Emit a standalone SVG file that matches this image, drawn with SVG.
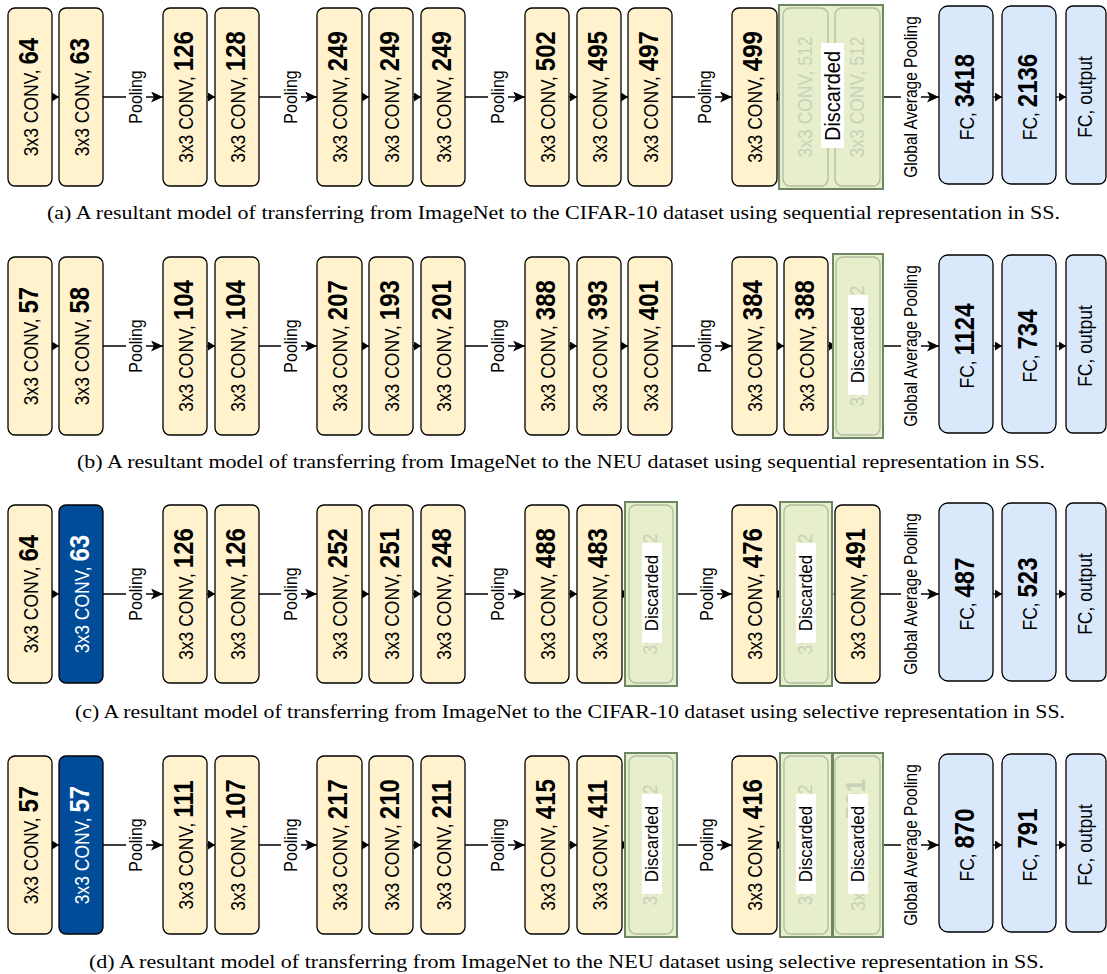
<svg xmlns="http://www.w3.org/2000/svg" width="1107" height="974" viewBox="0 0 1107 974">
<style>
.conv{fill:#fff2cc;stroke:#000;stroke-width:1.3}
.blue{fill:#004c99;stroke:#000;stroke-width:1.3}
.fc{fill:#dae8fc;stroke:#000;stroke-width:1.3}
.dout{fill:#e6eecb;stroke:#6d8764;stroke-width:2}
.din{fill:#e6eecb;stroke:#b3bca3;stroke-width:1.3}
.t{font-family:"Liberation Sans",Arial,sans-serif;font-size:17.5px;fill:#000}
.w{fill:#fff}
.f{fill:#c9d1b8}
.b{font-weight:bold;font-size:24px}
.lbl{font-family:"Liberation Sans",Arial,sans-serif;font-size:16px;fill:#000}
.gap{font-family:"Liberation Sans",Arial,sans-serif;font-size:15.5px;fill:#000}
.dl{font-family:"Liberation Sans",Arial,sans-serif;font-size:17px;fill:#000}
.cap{font-family:"Liberation Serif","Times New Roman",serif;font-size:18px;fill:#000}
.c{stroke:#000;stroke-width:1.3;fill:none}
.cf{stroke:#bcc4ab;stroke-width:1.3;fill:none}
</style>
<defs>
<marker id="tri" markerWidth="8" markerHeight="9" refX="7" refY="4.5" orient="auto" markerUnits="userSpaceOnUse"><path d="M0,0 L7,4.5 L0,9 Z" fill="#000"/></marker>
<marker id="trif" markerWidth="8" markerHeight="9" refX="7" refY="4.5" orient="auto" markerUnits="userSpaceOnUse"><path d="M0,0 L7,4.5 L0,9 Z" fill="#bcc4ab"/></marker>
<marker id="arr" markerWidth="13" markerHeight="11" refX="12" refY="5.5" orient="auto" markerUnits="userSpaceOnUse"><path d="M0,0 L12,5.5 L0,11 L3,5.5 Z" fill="#000"/></marker>
</defs>
<rect width="1107" height="974" fill="#fff"/>

<g id="connectors">
<!-- row a -->
<line class="c" x1="52" y1="97" x2="59" y2="97" marker-end="url(#tri)"/>
<line class="c" x1="103" y1="97" x2="163" y2="97" marker-end="url(#arr)"/>
<line class="c" x1="207" y1="97" x2="215" y2="97" marker-end="url(#tri)"/>
<line class="c" x1="259" y1="97" x2="317" y2="97" marker-end="url(#arr)"/>
<line class="c" x1="362" y1="97" x2="369" y2="97" marker-end="url(#tri)"/>
<line class="c" x1="413" y1="97" x2="421" y2="97" marker-end="url(#tri)"/>
<line class="c" x1="465" y1="97" x2="525" y2="97" marker-end="url(#arr)"/>
<line class="c" x1="569" y1="97" x2="577" y2="97" marker-end="url(#tri)"/>
<line class="c" x1="621" y1="97" x2="628" y2="97" marker-end="url(#tri)"/>
<line class="c" x1="672" y1="97" x2="732" y2="97" marker-end="url(#arr)"/>
<line class="c" x1="777" y1="97" x2="783" y2="97" marker-end="url(#tri)"/>
<line class="cf" x1="828" y1="97" x2="835" y2="97" marker-end="url(#trif)"/>
<line class="c" x1="883" y1="97" x2="939" y2="97" marker-end="url(#arr)"/>
<line class="c" x1="993" y1="97" x2="1002" y2="97" marker-end="url(#tri)"/>
<line class="c" x1="1056" y1="97" x2="1066" y2="97" marker-end="url(#tri)"/>
<!-- row b -->
<line class="c" x1="52" y1="346" x2="59" y2="346" marker-end="url(#tri)"/>
<line class="c" x1="103" y1="346" x2="163" y2="346" marker-end="url(#arr)"/>
<line class="c" x1="207" y1="346" x2="215" y2="346" marker-end="url(#tri)"/>
<line class="c" x1="259" y1="346" x2="317" y2="346" marker-end="url(#arr)"/>
<line class="c" x1="362" y1="346" x2="369" y2="346" marker-end="url(#tri)"/>
<line class="c" x1="413" y1="346" x2="421" y2="346" marker-end="url(#tri)"/>
<line class="c" x1="465" y1="346" x2="525" y2="346" marker-end="url(#arr)"/>
<line class="c" x1="569" y1="346" x2="577" y2="346" marker-end="url(#tri)"/>
<line class="c" x1="621" y1="346" x2="628" y2="346" marker-end="url(#tri)"/>
<line class="c" x1="672" y1="346" x2="732" y2="346" marker-end="url(#arr)"/>
<line class="c" x1="777" y1="346" x2="784" y2="346" marker-end="url(#tri)"/>
<line class="c" x1="828" y1="346" x2="836" y2="346" marker-end="url(#tri)"/>
<line class="c" x1="883" y1="346" x2="939" y2="346" marker-end="url(#arr)"/>
<line class="c" x1="993" y1="346" x2="1002" y2="346" marker-end="url(#tri)"/>
<line class="c" x1="1056" y1="346" x2="1066" y2="346" marker-end="url(#tri)"/>
<!-- row c -->
<line class="c" x1="52" y1="594" x2="59" y2="594" marker-end="url(#tri)"/>
<line class="c" x1="103" y1="594" x2="163" y2="594" marker-end="url(#arr)"/>
<line class="c" x1="207" y1="594" x2="215" y2="594" marker-end="url(#tri)"/>
<line class="c" x1="259" y1="594" x2="317" y2="594" marker-end="url(#arr)"/>
<line class="c" x1="362" y1="594" x2="369" y2="594" marker-end="url(#tri)"/>
<line class="c" x1="413" y1="594" x2="421" y2="594" marker-end="url(#tri)"/>
<line class="c" x1="465" y1="594" x2="525" y2="594" marker-end="url(#arr)"/>
<line class="c" x1="569" y1="594" x2="577" y2="594" marker-end="url(#tri)"/>
<line class="c" x1="622" y1="594" x2="629" y2="594" marker-end="url(#tri)"/>
<line class="c" x1="677" y1="594" x2="732" y2="594" marker-end="url(#arr)"/>
<line class="c" x1="777" y1="594" x2="784" y2="594" marker-end="url(#tri)"/>
<line class="cf" x1="828" y1="594" x2="835" y2="594" marker-end="url(#trif)"/>
<line class="c" x1="880" y1="594" x2="939" y2="594" marker-end="url(#arr)"/>
<line class="c" x1="993" y1="594" x2="1002" y2="594" marker-end="url(#tri)"/>
<line class="c" x1="1056" y1="594" x2="1066" y2="594" marker-end="url(#tri)"/>
<!-- row d -->
<line class="c" x1="52" y1="845" x2="59" y2="845" marker-end="url(#tri)"/>
<line class="c" x1="103" y1="845" x2="163" y2="845" marker-end="url(#arr)"/>
<line class="c" x1="207" y1="845" x2="215" y2="845" marker-end="url(#tri)"/>
<line class="c" x1="259" y1="845" x2="317" y2="845" marker-end="url(#arr)"/>
<line class="c" x1="362" y1="845" x2="369" y2="845" marker-end="url(#tri)"/>
<line class="c" x1="413" y1="845" x2="421" y2="845" marker-end="url(#tri)"/>
<line class="c" x1="465" y1="845" x2="525" y2="845" marker-end="url(#arr)"/>
<line class="c" x1="569" y1="845" x2="577" y2="845" marker-end="url(#tri)"/>
<line class="c" x1="622" y1="845" x2="629" y2="845" marker-end="url(#tri)"/>
<line class="c" x1="677" y1="845" x2="732" y2="845" marker-end="url(#arr)"/>
<line class="c" x1="777" y1="845" x2="784" y2="845" marker-end="url(#tri)"/>
<line class="cf" x1="828" y1="845" x2="835" y2="845" marker-end="url(#trif)"/>
<line class="c" x1="883" y1="845" x2="939" y2="845" marker-end="url(#arr)"/>
<line class="c" x1="993" y1="845" x2="1002" y2="845" marker-end="url(#tri)"/>
<line class="c" x1="1056" y1="845" x2="1066" y2="845" marker-end="url(#tri)"/>

<!-- edge labels -->
<g id="edge-labels">
<rect class="w" x="126" y="68" width="20" height="58"/><text class="lbl" text-anchor="middle" transform="translate(136,97) rotate(-90) scale(1,1.15)" y="5">Pooling</text>
<rect class="w" x="281" y="68" width="20" height="58"/><text class="lbl" text-anchor="middle" transform="translate(291,97) rotate(-90) scale(1,1.15)" y="5">Pooling</text>
<rect class="w" x="488" y="68" width="20" height="58"/><text class="lbl" text-anchor="middle" transform="translate(498,97) rotate(-90) scale(1,1.15)" y="5">Pooling</text>
<rect class="w" x="695" y="68" width="20" height="58"/><text class="lbl" text-anchor="middle" transform="translate(705,97) rotate(-90) scale(1,1.15)" y="5">Pooling</text>
<rect class="w" x="901" y="14" width="20" height="166"/><text class="gap" text-anchor="middle" transform="translate(911,97) rotate(-90) scale(1,1.15)" y="5">Global Average Pooling</text>

<rect class="w" x="126" y="317" width="20" height="58"/><text class="lbl" text-anchor="middle" transform="translate(136,346) rotate(-90) scale(1,1.15)" y="5">Pooling</text>
<rect class="w" x="281" y="317" width="20" height="58"/><text class="lbl" text-anchor="middle" transform="translate(291,346) rotate(-90) scale(1,1.15)" y="5">Pooling</text>
<rect class="w" x="488" y="317" width="20" height="58"/><text class="lbl" text-anchor="middle" transform="translate(498,346) rotate(-90) scale(1,1.15)" y="5">Pooling</text>
<rect class="w" x="695" y="317" width="20" height="58"/><text class="lbl" text-anchor="middle" transform="translate(705,346) rotate(-90) scale(1,1.15)" y="5">Pooling</text>
<rect class="w" x="901" y="263" width="20" height="166"/><text class="gap" text-anchor="middle" transform="translate(911,346) rotate(-90) scale(1,1.15)" y="5">Global Average Pooling</text>

<rect class="w" x="126" y="565" width="20" height="58"/><text class="lbl" text-anchor="middle" transform="translate(136,594) rotate(-90) scale(1,1.15)" y="5">Pooling</text>
<rect class="w" x="281" y="565" width="20" height="58"/><text class="lbl" text-anchor="middle" transform="translate(291,594) rotate(-90) scale(1,1.15)" y="5">Pooling</text>
<rect class="w" x="488" y="565" width="20" height="58"/><text class="lbl" text-anchor="middle" transform="translate(498,594) rotate(-90) scale(1,1.15)" y="5">Pooling</text>
<rect class="w" x="697" y="565" width="20" height="58"/><text class="lbl" text-anchor="middle" transform="translate(707,594) rotate(-90) scale(1,1.15)" y="5">Pooling</text>
<rect class="w" x="901" y="511" width="20" height="166"/><text class="gap" text-anchor="middle" transform="translate(911,594) rotate(-90) scale(1,1.15)" y="5">Global Average Pooling</text>

<rect class="w" x="126" y="816" width="20" height="58"/><text class="lbl" text-anchor="middle" transform="translate(136,845) rotate(-90) scale(1,1.15)" y="5">Pooling</text>
<rect class="w" x="281" y="816" width="20" height="58"/><text class="lbl" text-anchor="middle" transform="translate(291,845) rotate(-90) scale(1,1.15)" y="5">Pooling</text>
<rect class="w" x="488" y="816" width="20" height="58"/><text class="lbl" text-anchor="middle" transform="translate(498,845) rotate(-90) scale(1,1.15)" y="5">Pooling</text>
<rect class="w" x="697" y="816" width="20" height="58"/><text class="lbl" text-anchor="middle" transform="translate(707,845) rotate(-90) scale(1,1.15)" y="5">Pooling</text>
<rect class="w" x="901" y="762" width="20" height="166"/><text class="gap" text-anchor="middle" transform="translate(911,845) rotate(-90) scale(1,1.15)" y="5">Global Average Pooling</text>
</g>
</g>

<!-- ROW A -->
<g id="a-conv1"><rect class="conv" x="8" y="8" width="44" height="178" rx="7"/><text class="t" text-anchor="middle" transform="translate(30,97) rotate(-90) scale(1,1.12)" y="7">3x3 CONV, <tspan class="b">64</tspan></text></g>
<g id="a-conv2"><rect class="conv" x="59" y="8" width="44" height="178" rx="7"/><text class="t" text-anchor="middle" transform="translate(81,97) rotate(-90) scale(1,1.12)" y="7">3x3 CONV, <tspan class="b">63</tspan></text></g>
<g id="a-conv3"><rect class="conv" x="163" y="8" width="44" height="178" rx="7"/><text class="t" text-anchor="middle" transform="translate(185,97) rotate(-90) scale(1,1.12)" y="7">3x3 CONV, <tspan class="b">126</tspan></text></g>
<g id="a-conv4"><rect class="conv" x="215" y="8" width="44" height="178" rx="7"/><text class="t" text-anchor="middle" transform="translate(237,97) rotate(-90) scale(1,1.12)" y="7">3x3 CONV, <tspan class="b">128</tspan></text></g>
<g id="a-conv5"><rect class="conv" x="317" y="8" width="45" height="178" rx="7"/><text class="t" text-anchor="middle" transform="translate(339.5,97) rotate(-90) scale(1,1.12)" y="7">3x3 CONV, <tspan class="b">249</tspan></text></g>
<g id="a-conv6"><rect class="conv" x="369" y="8" width="44" height="178" rx="7"/><text class="t" text-anchor="middle" transform="translate(391,97) rotate(-90) scale(1,1.12)" y="7">3x3 CONV, <tspan class="b">249</tspan></text></g>
<g id="a-conv7"><rect class="conv" x="421" y="8" width="44" height="178" rx="7"/><text class="t" text-anchor="middle" transform="translate(443,97) rotate(-90) scale(1,1.12)" y="7">3x3 CONV, <tspan class="b">249</tspan></text></g>
<g id="a-conv8"><rect class="conv" x="525" y="8" width="44" height="178" rx="7"/><text class="t" text-anchor="middle" transform="translate(547,97) rotate(-90) scale(1,1.12)" y="7">3x3 CONV, <tspan class="b">502</tspan></text></g>
<g id="a-conv9"><rect class="conv" x="577" y="8" width="44" height="178" rx="7"/><text class="t" text-anchor="middle" transform="translate(599,97) rotate(-90) scale(1,1.12)" y="7">3x3 CONV, <tspan class="b">495</tspan></text></g>
<g id="a-conv10"><rect class="conv" x="628" y="8" width="44" height="178" rx="7"/><text class="t" text-anchor="middle" transform="translate(650,97) rotate(-90) scale(1,1.12)" y="7">3x3 CONV, <tspan class="b">497</tspan></text></g>
<g id="a-conv11"><rect class="conv" x="732" y="8" width="45" height="178" rx="7"/><text class="t" text-anchor="middle" transform="translate(754.5,97) rotate(-90) scale(1,1.12)" y="7">3x3 CONV, <tspan class="b">499</tspan></text></g>
<g id="a-discarded">
<rect class="dout" x="779" y="5" width="104" height="184"/>
<rect class="din" x="783" y="8" width="45" height="178" rx="7"/><text class="t f" text-anchor="middle" transform="translate(805.5,97) rotate(-90) scale(1,1.12)" y="5.5">3x3 CONV, 512</text>
<rect class="din" x="835" y="8" width="45" height="178" rx="7"/><text class="t f" text-anchor="middle" transform="translate(857.5,97) rotate(-90) scale(1,1.12)" y="5.5">3x3 CONV, 512</text>
<line class="cf" x1="828" y1="97" x2="835" y2="97" marker-end="url(#trif)"/>
<rect class="w" x="821" y="43" width="23" height="105"/><text class="dl" style="font-size:20px" text-anchor="middle" transform="translate(832.5,96) rotate(-90) scale(1,1.1)" y="7">Discarded</text>
</g>
<g id="a-fc1"><rect class="fc" x="939" y="6" width="54" height="178" rx="9"/><text class="t" text-anchor="middle" transform="translate(966,97) rotate(-90) scale(1,1.12)" y="7">FC, <tspan class="b">3418</tspan></text></g>
<g id="a-fc2"><rect class="fc" x="1002" y="6" width="54" height="178" rx="9"/><text class="t" text-anchor="middle" transform="translate(1029,97) rotate(-90) scale(1,1.12)" y="7">FC, <tspan class="b">2136</tspan></text></g>
<g id="a-fc3"><rect class="fc" x="1066" y="6" width="40" height="178" rx="7"/><text class="t" text-anchor="middle" transform="translate(1086,97) rotate(-90) scale(1,1.12)" y="5.5">FC, output</text></g>
<text id="cap-a" class="cap" x="47" y="219" textLength="1013" lengthAdjust="spacingAndGlyphs">(a) A resultant model of transferring from ImageNet to the CIFAR-10 dataset using sequential representation in SS.</text>

<!-- ROW B -->
<g id="b-conv1"><rect class="conv" x="8" y="257" width="44" height="178" rx="7"/><text class="t" text-anchor="middle" transform="translate(30,346) rotate(-90) scale(1,1.12)" y="7">3x3 CONV, <tspan class="b">57</tspan></text></g>
<g id="b-conv2"><rect class="conv" x="59" y="257" width="44" height="178" rx="7"/><text class="t" text-anchor="middle" transform="translate(81,346) rotate(-90) scale(1,1.12)" y="7">3x3 CONV, <tspan class="b">58</tspan></text></g>
<g id="b-conv3"><rect class="conv" x="163" y="257" width="44" height="178" rx="7"/><text class="t" text-anchor="middle" transform="translate(185,346) rotate(-90) scale(1,1.12)" y="7">3x3 CONV, <tspan class="b">104</tspan></text></g>
<g id="b-conv4"><rect class="conv" x="215" y="257" width="44" height="178" rx="7"/><text class="t" text-anchor="middle" transform="translate(237,346) rotate(-90) scale(1,1.12)" y="7">3x3 CONV, <tspan class="b">104</tspan></text></g>
<g id="b-conv5"><rect class="conv" x="317" y="257" width="45" height="178" rx="7"/><text class="t" text-anchor="middle" transform="translate(339.5,346) rotate(-90) scale(1,1.12)" y="7">3x3 CONV, <tspan class="b">207</tspan></text></g>
<g id="b-conv6"><rect class="conv" x="369" y="257" width="44" height="178" rx="7"/><text class="t" text-anchor="middle" transform="translate(391,346) rotate(-90) scale(1,1.12)" y="7">3x3 CONV, <tspan class="b">193</tspan></text></g>
<g id="b-conv7"><rect class="conv" x="421" y="257" width="44" height="178" rx="7"/><text class="t" text-anchor="middle" transform="translate(443,346) rotate(-90) scale(1,1.12)" y="7">3x3 CONV, <tspan class="b">201</tspan></text></g>
<g id="b-conv8"><rect class="conv" x="525" y="257" width="44" height="178" rx="7"/><text class="t" text-anchor="middle" transform="translate(547,346) rotate(-90) scale(1,1.12)" y="7">3x3 CONV, <tspan class="b">388</tspan></text></g>
<g id="b-conv9"><rect class="conv" x="577" y="257" width="44" height="178" rx="7"/><text class="t" text-anchor="middle" transform="translate(599,346) rotate(-90) scale(1,1.12)" y="7">3x3 CONV, <tspan class="b">393</tspan></text></g>
<g id="b-conv10"><rect class="conv" x="628" y="257" width="44" height="178" rx="7"/><text class="t" text-anchor="middle" transform="translate(650,346) rotate(-90) scale(1,1.12)" y="7">3x3 CONV, <tspan class="b">401</tspan></text></g>
<g id="b-conv11"><rect class="conv" x="732" y="257" width="45" height="178" rx="7"/><text class="t" text-anchor="middle" transform="translate(754.5,346) rotate(-90) scale(1,1.12)" y="7">3x3 CONV, <tspan class="b">384</tspan></text></g>
<g id="b-conv12"><rect class="conv" x="784" y="257" width="44" height="178" rx="7"/><text class="t" text-anchor="middle" transform="translate(806,346) rotate(-90) scale(1,1.12)" y="7">3x3 CONV, <tspan class="b">388</tspan></text></g>
<g id="b-discarded">
<rect class="dout" x="833" y="254" width="50" height="184"/>
<rect class="din" x="836" y="257" width="44" height="178" rx="7"/><text class="t f" text-anchor="middle" transform="translate(858,346) rotate(-90) scale(1,1.12)" y="5.5">3x3 CONV, 512</text>
<rect class="w" x="848" y="295" width="20" height="100"/><text class="dl" text-anchor="middle" transform="translate(858,345) rotate(-90) scale(1,1.1)" y="5.5">Discarded</text>
</g>
<g id="b-fc1"><rect class="fc" x="939" y="255" width="54" height="178" rx="9"/><text class="t" text-anchor="middle" transform="translate(966,346) rotate(-90) scale(1,1.12)" y="7">FC, <tspan class="b">1124</tspan></text></g>
<g id="b-fc2"><rect class="fc" x="1002" y="255" width="54" height="178" rx="9"/><text class="t" text-anchor="middle" transform="translate(1029,346) rotate(-90) scale(1,1.12)" y="7">FC, <tspan class="b">734</tspan></text></g>
<g id="b-fc3"><rect class="fc" x="1066" y="255" width="40" height="178" rx="7"/><text class="t" text-anchor="middle" transform="translate(1086,346) rotate(-90) scale(1,1.12)" y="5.5">FC, output</text></g>
<text id="cap-b" class="cap" x="77" y="468" textLength="968" lengthAdjust="spacingAndGlyphs">(b) A resultant model of transferring from ImageNet to the NEU dataset using sequential representation in SS.</text>

<!-- ROW C -->
<g id="c-conv1"><rect class="conv" x="8" y="505" width="44" height="178" rx="7"/><text class="t" text-anchor="middle" transform="translate(30,594) rotate(-90) scale(1,1.12)" y="7">3x3 CONV, <tspan class="b">64</tspan></text></g>
<g id="c-conv2"><rect class="blue" x="59" y="505" width="44" height="178" rx="7"/><text class="t" style="fill:#fff" text-anchor="middle" transform="translate(81,594) rotate(-90) scale(1,1.12)" y="7">3x3 CONV, <tspan class="b">63</tspan></text></g>
<g id="c-conv3"><rect class="conv" x="163" y="505" width="44" height="178" rx="7"/><text class="t" text-anchor="middle" transform="translate(185,594) rotate(-90) scale(1,1.12)" y="7">3x3 CONV, <tspan class="b">126</tspan></text></g>
<g id="c-conv4"><rect class="conv" x="215" y="505" width="44" height="178" rx="7"/><text class="t" text-anchor="middle" transform="translate(237,594) rotate(-90) scale(1,1.12)" y="7">3x3 CONV, <tspan class="b">126</tspan></text></g>
<g id="c-conv5"><rect class="conv" x="317" y="505" width="45" height="178" rx="7"/><text class="t" text-anchor="middle" transform="translate(339.5,594) rotate(-90) scale(1,1.12)" y="7">3x3 CONV, <tspan class="b">252</tspan></text></g>
<g id="c-conv6"><rect class="conv" x="369" y="505" width="44" height="178" rx="7"/><text class="t" text-anchor="middle" transform="translate(391,594) rotate(-90) scale(1,1.12)" y="7">3x3 CONV, <tspan class="b">251</tspan></text></g>
<g id="c-conv7"><rect class="conv" x="421" y="505" width="44" height="178" rx="7"/><text class="t" text-anchor="middle" transform="translate(443,594) rotate(-90) scale(1,1.12)" y="7">3x3 CONV, <tspan class="b">248</tspan></text></g>
<g id="c-conv8"><rect class="conv" x="525" y="505" width="44" height="178" rx="7"/><text class="t" text-anchor="middle" transform="translate(547,594) rotate(-90) scale(1,1.12)" y="7">3x3 CONV, <tspan class="b">488</tspan></text></g>
<g id="c-conv9"><rect class="conv" x="577" y="505" width="45" height="178" rx="7"/><text class="t" text-anchor="middle" transform="translate(599.5,594) rotate(-90) scale(1,1.12)" y="7">3x3 CONV, <tspan class="b">483</tspan></text></g>
<g id="c-discarded1">
<rect class="dout" x="625" y="502" width="52" height="184"/>
<rect class="din" x="629" y="505" width="44" height="178" rx="7"/><text class="t f" text-anchor="middle" transform="translate(651,594) rotate(-90) scale(1,1.12)" y="5.5">3x3 CONV, 512</text>
<rect class="w" x="642" y="543" width="20" height="100"/><text class="dl" text-anchor="middle" transform="translate(652,593) rotate(-90) scale(1,1.1)" y="5.5">Discarded</text>
</g>
<g id="c-conv10"><rect class="conv" x="732" y="505" width="45" height="178" rx="7"/><text class="t" text-anchor="middle" transform="translate(754.5,594) rotate(-90) scale(1,1.12)" y="7">3x3 CONV, <tspan class="b">476</tspan></text></g>
<g id="c-discarded2">
<rect class="dout" x="780" y="502" width="52" height="184"/>
<rect class="din" x="784" y="505" width="44" height="178" rx="7"/><text class="t f" text-anchor="middle" transform="translate(806,594) rotate(-90) scale(1,1.12)" y="5.5">3x3 CONV, 512</text>
<rect class="w" x="796" y="543" width="20" height="100"/><text class="dl" text-anchor="middle" transform="translate(806,593) rotate(-90) scale(1,1.1)" y="5.5">Discarded</text>
</g>
<g id="c-conv11"><rect class="conv" x="835" y="505" width="45" height="178" rx="7"/><text class="t" text-anchor="middle" transform="translate(857.5,594) rotate(-90) scale(1,1.12)" y="7">3x3 CONV, <tspan class="b">491</tspan></text></g>
<g id="c-fc1"><rect class="fc" x="939" y="503" width="54" height="178" rx="9"/><text class="t" text-anchor="middle" transform="translate(966,594) rotate(-90) scale(1,1.12)" y="7">FC, <tspan class="b">487</tspan></text></g>
<g id="c-fc2"><rect class="fc" x="1002" y="503" width="54" height="178" rx="9"/><text class="t" text-anchor="middle" transform="translate(1029,594) rotate(-90) scale(1,1.12)" y="7">FC, <tspan class="b">523</tspan></text></g>
<g id="c-fc3"><rect class="fc" x="1066" y="503" width="40" height="178" rx="7"/><text class="t" text-anchor="middle" transform="translate(1086,594) rotate(-90) scale(1,1.12)" y="5.5">FC, output</text></g>
<text id="cap-c" class="cap" x="75" y="718" textLength="990" lengthAdjust="spacingAndGlyphs">(c) A resultant model of transferring from ImageNet to the CIFAR-10 dataset using selective representation in SS.</text>

<!-- ROW D -->
<g id="d-conv1"><rect class="conv" x="8" y="756" width="44" height="178" rx="7"/><text class="t" text-anchor="middle" transform="translate(30,845) rotate(-90) scale(1,1.12)" y="7">3x3 CONV, <tspan class="b">57</tspan></text></g>
<g id="d-conv2"><rect class="blue" x="59" y="756" width="44" height="178" rx="7"/><text class="t" style="fill:#fff" text-anchor="middle" transform="translate(81,845) rotate(-90) scale(1,1.12)" y="7">3x3 CONV, <tspan class="b">57</tspan></text></g>
<g id="d-conv3"><rect class="conv" x="163" y="756" width="44" height="178" rx="7"/><text class="t" text-anchor="middle" transform="translate(185,845) rotate(-90) scale(1,1.12)" y="7">3x3 CONV, <tspan class="b">111</tspan></text></g>
<g id="d-conv4"><rect class="conv" x="215" y="756" width="44" height="178" rx="7"/><text class="t" text-anchor="middle" transform="translate(237,845) rotate(-90) scale(1,1.12)" y="7">3x3 CONV, <tspan class="b">107</tspan></text></g>
<g id="d-conv5"><rect class="conv" x="317" y="756" width="45" height="178" rx="7"/><text class="t" text-anchor="middle" transform="translate(339.5,845) rotate(-90) scale(1,1.12)" y="7">3x3 CONV, <tspan class="b">217</tspan></text></g>
<g id="d-conv6"><rect class="conv" x="369" y="756" width="44" height="178" rx="7"/><text class="t" text-anchor="middle" transform="translate(391,845) rotate(-90) scale(1,1.12)" y="7">3x3 CONV, <tspan class="b">210</tspan></text></g>
<g id="d-conv7"><rect class="conv" x="421" y="756" width="44" height="178" rx="7"/><text class="t" text-anchor="middle" transform="translate(443,845) rotate(-90) scale(1,1.12)" y="7">3x3 CONV, <tspan class="b">211</tspan></text></g>
<g id="d-conv8"><rect class="conv" x="525" y="756" width="44" height="178" rx="7"/><text class="t" text-anchor="middle" transform="translate(547,845) rotate(-90) scale(1,1.12)" y="7">3x3 CONV, <tspan class="b">415</tspan></text></g>
<g id="d-conv9"><rect class="conv" x="577" y="756" width="45" height="178" rx="7"/><text class="t" text-anchor="middle" transform="translate(599.5,845) rotate(-90) scale(1,1.12)" y="7">3x3 CONV, <tspan class="b">411</tspan></text></g>
<g id="d-discarded1">
<rect class="dout" x="625" y="753" width="52" height="184"/>
<rect class="din" x="629" y="756" width="44" height="178" rx="7"/><text class="t f" text-anchor="middle" transform="translate(651,845) rotate(-90) scale(1,1.12)" y="5.5">3x3 CONV, 512</text>
<rect class="w" x="642" y="794" width="20" height="100"/><text class="dl" text-anchor="middle" transform="translate(652,844) rotate(-90) scale(1,1.1)" y="5.5">Discarded</text>
</g>
<g id="d-conv10"><rect class="conv" x="732" y="756" width="45" height="178" rx="7"/><text class="t" text-anchor="middle" transform="translate(754.5,845) rotate(-90) scale(1,1.12)" y="7">3x3 CONV, <tspan class="b">416</tspan></text></g>
<g id="d-discarded2">
<rect class="dout" x="780" y="753" width="52" height="184"/>
<rect class="din" x="784" y="756" width="44" height="178" rx="7"/><text class="t f" text-anchor="middle" transform="translate(806,845) rotate(-90) scale(1,1.12)" y="5.5">3x3 CONV, 512</text>
<rect class="w" x="796" y="794" width="20" height="100"/><text class="dl" text-anchor="middle" transform="translate(806,844) rotate(-90) scale(1,1.1)" y="5.5">Discarded</text>
</g>
<g id="d-discarded3">
<rect class="dout" x="833" y="753" width="50" height="184"/>
<rect class="din" x="835" y="756" width="45" height="178" rx="7"/><text class="t f" text-anchor="middle" transform="translate(857.5,845) rotate(-90) scale(1,1.12)" y="7">3x3 CONV, <tspan class="b">501</tspan></text>
<rect class="w" x="848" y="794" width="20" height="100"/><text class="dl" text-anchor="middle" transform="translate(858,844) rotate(-90) scale(1,1.1)" y="5.5">Discarded</text>
</g>
<g id="d-fc1"><rect class="fc" x="939" y="754" width="54" height="178" rx="9"/><text class="t" text-anchor="middle" transform="translate(966,845) rotate(-90) scale(1,1.12)" y="7">FC, <tspan class="b">870</tspan></text></g>
<g id="d-fc2"><rect class="fc" x="1002" y="754" width="54" height="178" rx="9"/><text class="t" text-anchor="middle" transform="translate(1029,845) rotate(-90) scale(1,1.12)" y="7">FC, <tspan class="b">791</tspan></text></g>
<g id="d-fc3"><rect class="fc" x="1066" y="754" width="40" height="178" rx="7"/><text class="t" text-anchor="middle" transform="translate(1086,845) rotate(-90) scale(1,1.12)" y="5.5">FC, output</text></g>
<text id="cap-d" class="cap" x="89" y="968" textLength="955" lengthAdjust="spacingAndGlyphs">(d) A resultant model of transferring from ImageNet to the NEU dataset using selective representation in SS.</text>
</svg>
